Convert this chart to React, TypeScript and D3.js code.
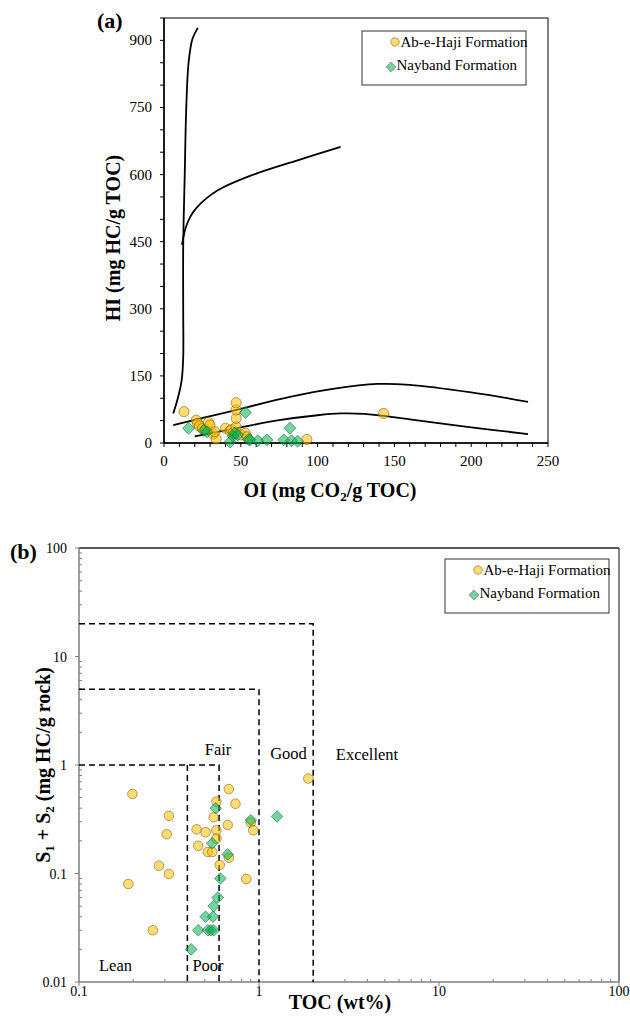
import React from "react";
import * as d3 from "d3";

const W = 630;
const H = 1017;
const FONT = "'Liberation Serif', 'Times New Roman', serif";

const seriesNames = ["Ab-e-Haji Formation", "Nayband Formation"];

// panel (a): [OI, HI]
const abHajiOIHI: [number, number][] = [
  [13, 70], [21, 51], [22, 44], [23, 38], [25, 32], [27, 30], [29, 46], [30, 40],
  [32, 20], [34, 9], [33, 25], [40, 33], [43, 27], [44, 30], [45, 22], [47, 36],
  [47, 55], [47, 74], [47, 90], [50, 18], [53, 22], [54, 14], [93, 8], [143, 66],
];
const naybandOIHI: [number, number][] = [
  [16, 33], [26, 28], [28, 25], [43, 2], [45, 15], [46, 22], [48, 18], [53, 68],
  [55, 8], [56, 7], [61, 5], [67, 7], [78, 7], [82, 33], [83, 5], [87, 4],
];

// panel (b): [TOC, S1+S2]
const abHajiTOCS: [number, number][] = [
  [0.198, 0.54], [0.316, 0.34], [0.307, 0.23], [0.278, 0.118], [0.316, 0.099],
  [0.188, 0.08], [0.257, 0.03], [0.68, 0.6], [0.74, 0.44], [0.58, 0.46],
  [0.56, 0.33], [0.67, 0.28], [0.9, 0.295], [0.93, 0.25], [0.45, 0.255],
  [0.505, 0.24], [0.58, 0.25], [0.58, 0.21], [0.46, 0.18], [0.52, 0.158],
  [0.55, 0.158], [0.68, 0.14], [0.605, 0.12], [0.85, 0.089], [1.88, 0.75],
];
const naybandTOCS: [number, number][] = [
  [0.575, 0.4], [0.9, 0.31], [0.55, 0.19], [0.67, 0.15], [0.61, 0.09],
  [0.59, 0.06], [0.56, 0.05], [0.505, 0.04], [0.555, 0.04], [0.46, 0.03],
  [0.52, 0.03], [0.54, 0.03], [0.56, 0.03], [0.42, 0.02], [1.26, 0.335],
];

// kerogen type lines, [OI, HI]
const typeILine: [number, number][] = [
  [6, 66], [9, 100], [11.5, 140], [12.5, 190], [12.5, 300], [12.5, 440],
  [13.5, 600], [14.5, 750], [16, 850], [18.5, 903], [22, 928],
];
const typeIILine: [number, number][] = [
  [11.7, 443], [14, 480], [17, 505], [21, 525], [27, 545], [35, 565],
  [56, 597], [88, 633], [115, 662],
];
const typeIIILine: [number, number][] = [
  [6, 40], [40, 68], [82, 103], [110, 121], [139, 132], [160, 130], [200, 113], [237, 92],
];
const typeIVLine: [number, number][] = [
  [20, 15], [50, 35], [75, 51], [100, 62], [115, 66], [130, 65], [160, 53], [200, 35], [237, 20],
];

const hiTicks = [0, 150, 300, 450, 600, 750, 900];
const oiTicks = [0, 50, 100, 150, 200, 250];
const tocTicks = [0.1, 1, 10, 100];
const sTicks = [0.01, 0.1, 1, 10, 100];

// potential class limits: [TOC, S1+S2]
const classLimits: [number, number][] = [[0.6, 1], [1, 5], [2, 20]];
const poorLimit: [number, number] = [0.4, 1];

const circleFill = "#FFC000";
const circleStroke = "#6b5000";
const diamondFill = "#00B050";
const diamondStroke = "#1a5e38";

function diamondPath(x: number, y: number, h: number) {
  return `M${x},${y - h}L${x + h},${y}L${x},${y + h}L${x - h},${y}Z`;
}

function Circle({ x, y, r = 4.8 }: { x: number; y: number; r?: number }) {
  return (
    <circle cx={x} cy={y} r={r} fill={circleFill} fillOpacity={0.55}
      stroke={circleStroke} strokeOpacity={0.65} strokeWidth={0.8} />
  );
}
function Diamond({ x, y, h = 5.8 }: { x: number; y: number; h?: number }) {
  return (
    <path d={diamondPath(x, y, h)} fill={diamondFill} fillOpacity={0.55}
      stroke={diamondStroke} strokeOpacity={0.7} strokeWidth={0.8} />
  );
}

function Legend({ x, y }: { x: number; y: number }) {
  return (
    <g fontFamily={FONT} fontSize={15}>
      <rect x={x} y={y} width={164} height={54} fill="white" stroke="#333" strokeWidth={1} />
      <Circle x={x + 33} y={y + 11} r={4.2} />
      <text x={x + 38.5} y={y + 15.5}>{seriesNames[0]}</text>
      <Diamond x={x + 29} y={y + 36} h={4.8} />
      <text x={x + 34.5} y={y + 38.5}>{seriesNames[1]}</text>
    </g>
  );
}

function PanelA() {
  const x = d3.scaleLinear().domain([0, 250]).range([164, 548]);
  const y = d3.scaleLinear().domain([0, 950]).range([443, 18]);
  const line = d3
    .line<[number, number]>()
    .x((d) => x(d[0]))
    .y((d) => y(d[1]))
    .curve(d3.curveCatmullRom.alpha(0.5));
  const xMinor = d3.range(0, 251, 10);
  const yMinor = d3.range(0, 951, 50);
  return (
    <g fontFamily={FONT}>
      <rect x={x(0)} y={y(950)} width={x(250) - x(0)} height={y(0) - y(950)}
        fill="none" stroke="black" strokeWidth={1} />
      {[typeILine, typeIILine, typeIIILine, typeIVLine].map((d, i) => (
        <path key={i} d={line(d) || ""} fill="none" stroke="black" strokeWidth={1.8} />
      ))}
      {xMinor.map((v) => (
        <line key={v} x1={x(v)} x2={x(v)} y1={y(0)} y2={y(0) + 4} stroke="black" />
      ))}
      {yMinor.map((v) => (
        <line key={v} x1={x(0) - 4} x2={x(0)} y1={y(v)} y2={y(v)} stroke="black" />
      ))}
      <line x1={x(0)} x2={x(250)} y1={y(0)} y2={y(0)} stroke="black" strokeWidth={1.5} />
      <line x1={x(0)} x2={x(0)} y1={y(0)} y2={y(950)} stroke="black" strokeWidth={1.5} />
      {hiTicks.map((v) => (
        <text key={v} x={x(0) - 12} y={y(v) + 5} textAnchor="end" fontSize={15}>{v}</text>
      ))}
      {oiTicks.map((v) => (
        <text key={v} x={x(v)} y={y(0) + 23} textAnchor="middle" fontSize={15}>{v}</text>
      ))}
      {abHajiOIHI.map((d, i) => <Circle key={i} x={x(d[0])} y={y(d[1])} r={5.1} />)}
      {naybandOIHI.map((d, i) => <Diamond key={i} x={x(d[0])} y={y(d[1])} h={6} />)}
      <Legend x={362} y={31} />
      <text x={97} y={28} fontSize={22} fontWeight="bold">(a)</text>
      <text transform="translate(120,238) rotate(-90)" textAnchor="middle" fontSize={20} fontWeight="bold">
        HI (mg HC/g TOC)
      </text>
      <text x={330} y={497} textAnchor="middle" fontSize={20} fontWeight="bold">
        OI (mg CO<tspan dy={4} fontSize={13}>2</tspan><tspan dy={-4}>/g TOC)</tspan>
      </text>
    </g>
  );
}

function PanelB() {
  const x = d3.scaleLog().domain([0.1, 100]).range([79, 619]);
  const y = d3.scaleLog().domain([0.01, 100]).range([982, 548]);
  const xMinor = x.ticks().filter((v) => !tocTicks.includes(v));
  const yMinor = y.ticks().filter((v) => !sTicks.some((s) => Math.abs(s - v) < 1e-9));
  const axis = "#7f7f7f";
  return (
    <g fontFamily={FONT}>
      <line x1={x(0.1)} x2={x(100)} y1={y(100)} y2={y(100)} stroke="#222" strokeWidth={1.3} />
      <line x1={x(100)} x2={x(100)} y1={y(100)} y2={y(0.01)} stroke="#444" strokeWidth={1.3} />
      {xMinor.map((v) => (
        <line key={v} x1={x(v)} x2={x(v)} y1={y(0.01)} y2={y(0.01) - 3} stroke={axis} />
      ))}
      {tocTicks.map((v) => (
        <line key={v} x1={x(v)} x2={x(v)} y1={y(0.01)} y2={y(0.01) + 4} stroke={axis} />
      ))}
      {yMinor.map((v) => (
        <line key={v} x1={x(0.1)} x2={x(0.1) + 3} y1={y(v)} y2={y(v)} stroke={axis} />
      ))}
      {sTicks.map((v) => (
        <line key={v} x1={x(0.1) - 4} x2={x(0.1)} y1={y(v)} y2={y(v)} stroke={axis} />
      ))}
      <line x1={x(0.1)} x2={x(100)} y1={y(0.01)} y2={y(0.01)} stroke={axis} strokeWidth={1.5} />
      <line x1={x(0.1)} x2={x(0.1)} y1={y(0.01)} y2={y(100)} stroke={axis} strokeWidth={1.5} />
      {classLimits.map(([t, s], i) => (
        <path key={i} d={`M${x(0.1)},${y(s)}H${x(t)}V${y(0.01)}`} fill="none"
          stroke="black" strokeWidth={1.5} strokeDasharray="6,4" />
      ))}
      <path d={`M${x(poorLimit[0])},${y(poorLimit[1])}V${y(0.01)}`} fill="none"
        stroke="black" strokeWidth={1.5} strokeDasharray="6,4" />
      {sTicks.map((v) => (
        <text key={v} x={67} y={y(v) + 5} textAnchor="end" fontSize={14}>{String(v)}</text>
      ))}
      {tocTicks.map((v) => (
        <text key={v} x={x(v)} y={y(0.01) + 14} textAnchor="middle" fontSize={14}>{String(v)}</text>
      ))}
      <g fontSize={16.5}>
        <text x={218} y={755} textAnchor="middle">Fair</text>
        <text x={288.5} y={759} textAnchor="middle">Good</text>
        <text x={367} y={760} textAnchor="middle">Excellent</text>
        <text x={115.5} y={971} textAnchor="middle">Lean</text>
        <text x={208} y={971} textAnchor="middle">Poor</text>
      </g>
      {abHajiTOCS.map((d, i) => <Circle key={i} x={x(d[0])} y={y(d[1])} />)}
      {naybandTOCS.map((d, i) => <Diamond key={i} x={x(d[0])} y={y(d[1])} />)}
      <Legend x={445} y={559} />
      <text x={10} y={559} fontSize={22} fontWeight="bold">(b)</text>
      <text transform="translate(50,765) rotate(-90)" textAnchor="middle" fontSize={20} fontWeight="bold">
        S<tspan dy={4} fontSize={13}>1</tspan><tspan dy={-4}> + S</tspan>
        <tspan dy={4} fontSize={13}>2</tspan><tspan dy={-4}> (mg HC/g rock)</tspan>
      </text>
      <text x={340} y={1009} textAnchor="middle" fontSize={20} fontWeight="bold">TOC (wt%)</text>
    </g>
  );
}

export default function App() {
  return (
    <svg width={W} height={H} viewBox={`0 0 ${W} ${H}`}
      style={{ position: "absolute", left: 0, top: 0, background: "white" }}>
      <rect width={W} height={H} fill="white" />
      <PanelA />
      <PanelB />
    </svg>
  );
}
